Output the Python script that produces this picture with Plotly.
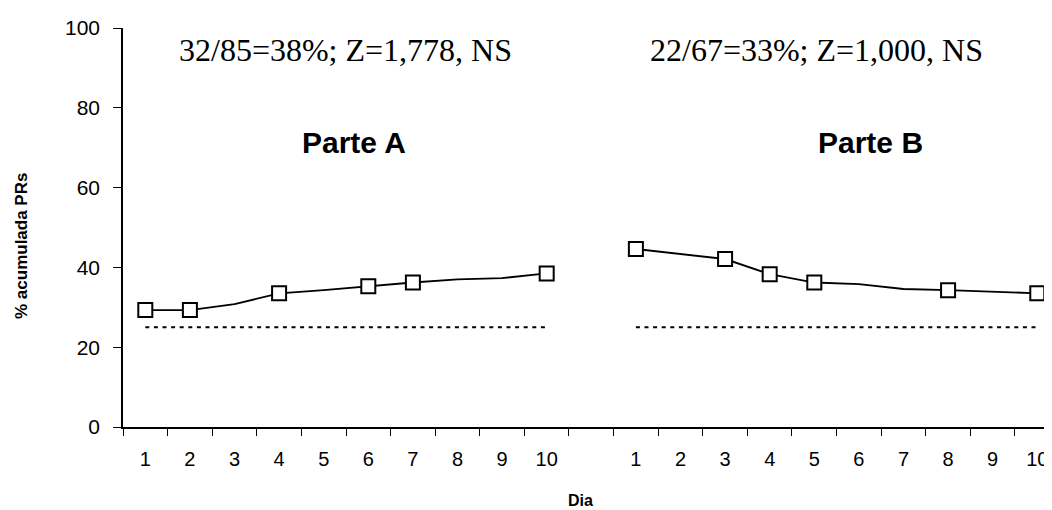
import plotly.graph_objects as go

# ---- data ----
days = list(range(1, 11))
part_a = [29.3, 29.3, 30.8, 33.5, 34.3, 35.3, 36.2, 37.0, 37.3, 38.5]
part_b = [44.6, 43.4, 42.1, 38.3, 36.2, 35.8, 34.6, 34.3, 33.9, 33.5]
marked_a = [1, 2, 4, 6, 7, 10]
marked_b = [1, 3, 4, 5, 8, 10]
chance_level = 25
stat_a = "32/85=38%; Z=1,778, NS"
stat_b = "22/67=33%; Z=1,000, NS"
title_a = "Parte A"
title_b = "Parte B"
y_title = "% acumulada PRs"
x_title = "Dia"
y_ticks = [0, 20, 40, 60, 80, 100]

# positions on a shared numeric axis: part A at 0..9, a blank slot at 10, part B at 11..20
pos_a = [d - 1 for d in days]
pos_b = [d + 10 for d in days]

fig = go.Figure()

line_style = dict(color="black", width=1.9)
marker_style = dict(symbol="square", size=14, color="white", line=dict(color="black", width=2))
dash_style = dict(color="black", width=2, dash="4px,4.6px")

for pos, vals, marked in [(pos_a, part_a, marked_a), (pos_b, part_b, marked_b)]:
    fig.add_trace(go.Scatter(x=pos, y=[chance_level] * len(pos), mode="lines",
                             line=dash_style, hoverinfo="skip", showlegend=False))
    fig.add_trace(go.Scatter(x=pos, y=vals, mode="lines", line=line_style,
                             showlegend=False))
    mx = [pos[days.index(d)] for d in marked]
    my = [vals[days.index(d)] for d in marked]
    fig.add_trace(go.Scatter(x=mx, y=my, mode="markers", marker=marker_style,
                             showlegend=False))

# dummy trace on label axis
fig.add_trace(go.Scatter(x=[0], y=[None], xaxis="x2", showlegend=False, hoverinfo="skip"))

boundaries = [i - 0.5 for i in range(0, 22)]
x_range = [-0.5, 20.33]

fig.update_layout(
    width=1044, height=502,
    margin=dict(l=115, r=0, t=20, b=83),
    paper_bgcolor="white", plot_bgcolor="white",
    font=dict(family="Arial, Liberation Sans, sans-serif", color="black"),
    xaxis=dict(range=x_range, tickmode="array", tickvals=boundaries,
               ticktext=[""] * len(boundaries), ticks="outside", ticklen=7,
               tickwidth=1, tickcolor="black", showline=True, linecolor="black",
               linewidth=1.5, showgrid=False, zeroline=False, fixedrange=True,
               automargin=False),
    xaxis2=dict(range=x_range, overlaying="x", anchor="y", side="bottom",
                tickmode="array", tickvals=pos_a + pos_b,
                ticktext=[str(d) for d in days] * 2, ticks="", showline=False,
                showgrid=False, zeroline=False, ticklabelstandoff=18,
                automargin=False,
                tickfont=dict(size=20, family="Arial, Liberation Sans, sans-serif")),
    yaxis=dict(range=[0, 100], tickmode="array", tickvals=y_ticks,
               ticks="outside", ticklen=8, tickwidth=1, tickcolor="black",
               showline=True, linecolor="black", linewidth=1.5, showgrid=False,
               zeroline=False, ticklabelstandoff=9, automargin=False,
               tickfont=dict(size=21, family="Arial, Liberation Sans, sans-serif")),
)

serif = "Times New Roman, Liberation Serif, serif"
sans = "Arial, Liberation Sans, sans-serif"

fig.add_annotation(x=4.49, y=94.5, xref="x", yref="y", text=stat_a, showarrow=False,
                   font=dict(family=serif, size=32, color="black"))
fig.add_annotation(x=15.04, y=94.5, xref="x", yref="y", text=stat_b, showarrow=False,
                   font=dict(family=serif, size=32, color="black"))
fig.add_annotation(x=4.69, y=71.4, xref="x", yref="y", text="<b>" + title_a + "</b>",
                   showarrow=False, font=dict(family=sans, size=30, color="black"))
fig.add_annotation(x=16.25, y=71.4, xref="x", yref="y", text="<b>" + title_b + "</b>",
                   showarrow=False, font=dict(family=sans, size=30, color="black"))
fig.add_annotation(x=(21 - 123) / 929, y=(427 - 246) / 399, xref="paper", yref="paper",
                   xanchor="center", yanchor="middle",
                   text="<b>" + y_title + "</b>", textangle=-90, showarrow=False,
                   font=dict(family=sans, size=17, color="black"))
fig.add_annotation(x=(580 - 123) / 929, y=(427 - 501) / 399, xref="paper", yref="paper",
                   xanchor="center", yanchor="middle",
                   text="<b>" + x_title + "</b>", showarrow=False,
                   font=dict(family=sans, size=16, color="black"))

fig.write_html("out.html")
